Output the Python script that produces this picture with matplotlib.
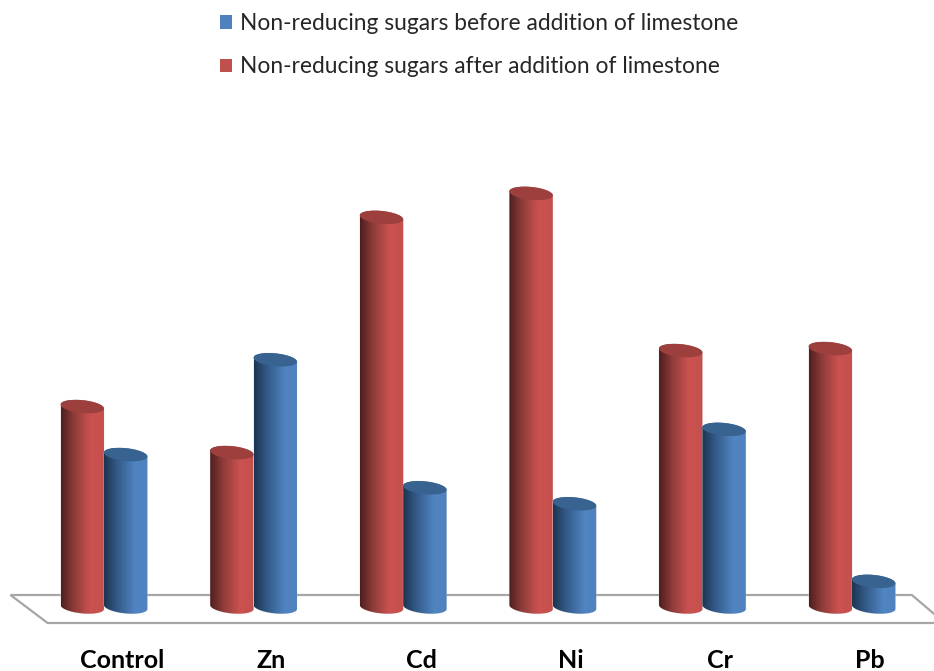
import numpy as np
import matplotlib
matplotlib.use("Agg")
import matplotlib.pyplot as plt
from matplotlib.colors import LinearSegmentedColormap
from matplotlib.patches import Patch, Polygon

plt.rcParams['font.family'] = ['Lato', 'DejaVu Sans']

# no value axis in the original, values are relative heights
categories = ["Control", "Zn", "Cd", "Ni", "Cr", "Pb"]
after_limestone = [5.01, 3.86, 9.74, 10.34, 6.41, 6.46]
before_limestone = [3.81, 6.18, 2.98, 2.58, 4.44, 0.64]
label_before = "Non-reducing sugars before addition of limestone"
label_after = "Non-reducing sugars after addition of limestone"

RED = "#c0504d"
BLUE = "#4f81bd"
red_map = LinearSegmentedColormap.from_list("r", [(0, "#4e1f1e"), (0.3, "#8f3c3a"), (0.68, "#cb5250"), (1, "#c4504d")])
blue_map = LinearSegmentedColormap.from_list("b", [(0, "#1c3550"), (0.3, "#335a88"), (0.72, "#5085c2"), (1, "#4f81bd")])

BAR_W = 0.29
RX = BAR_W / 2
RY = 0.16    # ellipse half height
TILT = 0.05  # ellipse leans down to the right

fig = plt.figure(figsize=(9.34, 6.71), dpi=100)
ax = fig.add_axes([0, 0, 1, 1])
ax.axis("off")


def ellipse_xy(xc, yc, t):
    return xc + RX * np.cos(t), yc + RY * np.sin(t) - TILT * np.cos(t)


def cylinder(xc, value, cmap, top_color):
    # outline: top edge left to right, then round the bottom
    t_low = np.linspace(0, -np.pi, 60)
    bx, by = ellipse_xy(xc, 0, t_low)
    tx, ty = ellipse_xy(xc, value, np.linspace(np.pi, 0, 60))
    body = Polygon(np.column_stack([np.r_[tx, bx], np.r_[ty, by]]), closed=True,
                   facecolor="none", edgecolor="#d9d9d9", lw=0.5, alpha=0.6, zorder=3)
    ax.add_patch(body)
    grad = np.linspace(0, 1, 128).reshape(1, -1)
    im = ax.imshow(grad, cmap=cmap, aspect="auto", zorder=3, interpolation="bilinear",
                   extent=(xc - RX, xc + RX, -RY - 0.2, value + RY + 0.2))
    im.set_clip_path(body)
    ex, ey = ellipse_xy(xc, value, np.linspace(0, 2 * np.pi, 120))
    ax.fill(ex, ey, color=top_color, zorder=4, lw=0)


# floor of the 3d chart
ax.add_patch(Polygon([(-0.625, 0.30), (-0.377, -0.40), (5.62, -0.40), (5.40, 0.30)], closed=True,
                     facecolor="white", edgecolor="#a6a6a6", lw=1.6, zorder=1))

for i, cat in enumerate(categories):
    cylinder(i - BAR_W / 2, after_limestone[i], red_map, "#9c3f3d")
    cylinder(i + BAR_W / 2, before_limestone[i], blue_map, "#38628f")
    ax.text(i + 0.12, -1.33, cat, ha="center", va="center", fontsize=18, fontweight="bold", color="black")

ax.set_xlim(-0.695, 5.548)
ax.set_ylim(-1.6, 15.175)

handles = [Patch(facecolor=BLUE, label=label_before), Patch(facecolor=RED, label=label_after)]
ax.legend(handles=handles, loc="upper left", bbox_to_anchor=(0.2287, 0.9906), frameon=False,
          fontsize=16.4, handlelength=0.52, handleheight=0.52, handletextpad=0.35,
          labelspacing=0.98, labelcolor="#262626", borderaxespad=0, borderpad=0.3)

fig.savefig("out.png", dpi=100)
